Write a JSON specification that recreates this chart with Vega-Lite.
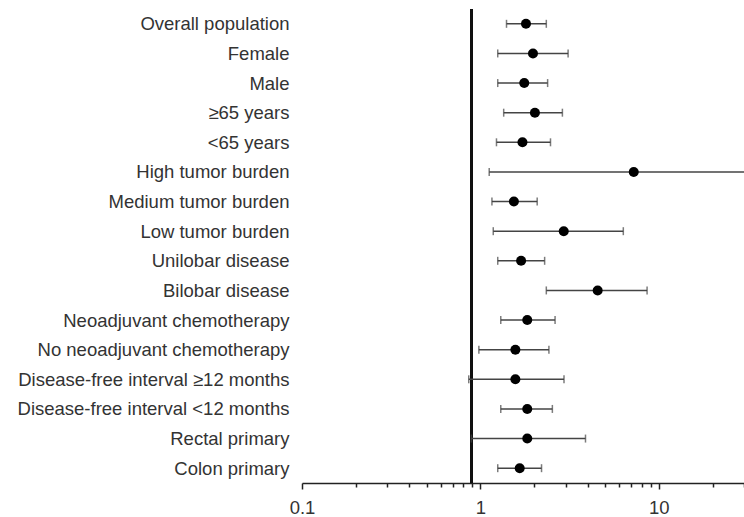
{
  "$schema": "https://vega.github.io/schema/vega-lite/v6.json",
  "width": 442,
  "height": 474,
  "autosize": {"type": "none"},
  "padding": {"left": 302, "top": 9, "right": 0, "bottom": 34},
  "background": "white",
  "config": {
    "view": {"stroke": null},
    "font": "Liberation Sans"
  },
  "data": {
    "values": [
      {"group": "Overall population", "est": 1.80, "lo": 1.40, "hi": 2.34},
      {"group": "Female", "est": 1.97, "lo": 1.25, "hi": 3.10},
      {"group": "Male", "est": 1.76, "lo": 1.25, "hi": 2.38},
      {"group": "≥65 years", "est": 2.02, "lo": 1.35, "hi": 2.88},
      {"group": "<65 years", "est": 1.72, "lo": 1.23, "hi": 2.47},
      {"group": "High tumor burden", "est": 7.23, "lo": 1.12, "hi": 40},
      {"group": "Medium tumor burden", "est": 1.54, "lo": 1.16, "hi": 2.08},
      {"group": "Low tumor burden", "est": 2.93, "lo": 1.18, "hi": 6.32},
      {"group": "Unilobar disease", "est": 1.69, "lo": 1.25, "hi": 2.29},
      {"group": "Bilobar disease", "est": 4.54, "lo": 2.34, "hi": 8.59},
      {"group": "Neoadjuvant chemotherapy", "est": 1.83, "lo": 1.30, "hi": 2.62},
      {"group": "No neoadjuvant chemotherapy", "est": 1.57, "lo": 0.98, "hi": 2.42},
      {"group": "Disease-free interval ≥12 months", "est": 1.57, "lo": 0.86, "hi": 2.94},
      {"group": "Disease-free interval <12 months", "est": 1.83, "lo": 1.30, "hi": 2.53},
      {"group": "Rectal primary", "est": 1.83, "lo": 0.89, "hi": 3.88},
      {"group": "Colon primary", "est": 1.66, "lo": 1.25, "hi": 2.20}
    ]
  },
  "encoding": {
    "y": {
      "field": "group",
      "type": "nominal",
      "sort": null,
      "title": null,
      "scale": {"type": "point", "padding": 0.5},
      "axis": {
        "domain": false,
        "ticks": false,
        "labelPadding": 13,
        "labelLimit": 400,
        "labelFontSize": 18.5,
        "labelColor": "#333333",
        "labelFont": "Liberation Sans"
      }
    }
  },
  "layer": [
    {
      "mark": {"type": "rule", "color": "#111111", "strokeWidth": 2},
      "encoding": {
        "y": null,
        "x": {"datum": 0.89, "type": "quantitative", "scale": {"type": "log", "domain": [0.1, 30], "nice": false}}
      }
    },
    {
      "mark": {"type": "rule", "color": "#444444", "strokeWidth": 1.5, "clip": true},
      "encoding": {
        "x": {
          "field": "lo",
          "type": "quantitative",
          "title": null,
          "scale": {"type": "log", "domain": [0.1, 30], "nice": false},
          "axis": {
            "values": [0.1, 0.2, 0.3, 0.4, 0.5, 0.6, 0.7, 0.8, 0.9, 1, 2, 3, 4, 5, 6, 7, 8, 9, 10, 20, 30],
            "labelExpr": "datum.value == 0.1 ? '0.1' : (datum.value == 1 ? '1' : (datum.value == 10 ? '10' : ''))",
            "grid": false,
            "domainColor": "#222222",
            "domainWidth": 1.6,
            "tickColor": "#222222",
            "tickWidth": 1.5,
            "tickSize": {"condition": {"test": "datum.value == 0.1 || datum.value == 1 || datum.value == 10", "value": 6}, "value": 4},
            "labelPadding": 9,
            "labelFontSize": 18.5,
            "labelColor": "#333333",
            "labelFont": "Liberation Sans",
            "labelFlush": false,
            "labelOverlap": false
          }
        },
        "x2": {"field": "hi"}
      }
    },
    {
      "mark": {"type": "tick", "orient": "vertical", "color": "#444444", "size": 8, "thickness": 1.5, "clip": true},
      "encoding": {
        "x": {"field": "lo", "type": "quantitative"}
      }
    },
    {
      "mark": {"type": "tick", "orient": "vertical", "color": "#444444", "size": 8, "thickness": 1.5, "clip": true},
      "encoding": {
        "x": {"field": "hi", "type": "quantitative"}
      }
    },
    {
      "mark": {"type": "point", "filled": true, "color": "#000000", "opacity": 1, "size": 100, "shape": "circle"},
      "encoding": {
        "x": {"field": "est", "type": "quantitative"}
      }
    }
  ]
}
